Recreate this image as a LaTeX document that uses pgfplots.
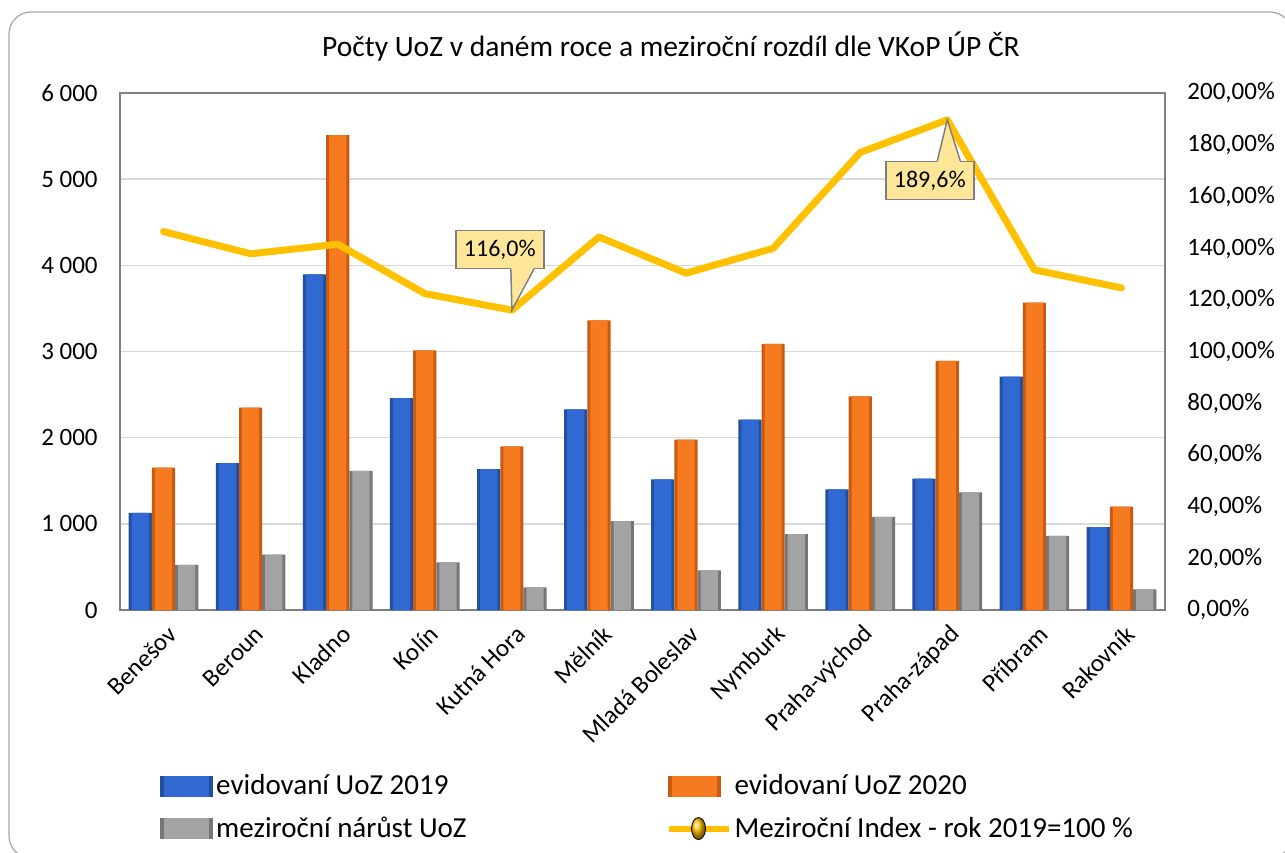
\documentclass[border=0pt]{standalone}
\usepackage{pgfplots}
\usepackage{pgfplotstable}
\pgfplotsset{compat=1.18}
\usepackage{fontspec}
\setmainfont{Carlito}
\definecolor{blueM}{HTML}{3169D2}
\definecolor{blueD}{HTML}{22509E}
\definecolor{orangeM}{HTML}{F57A20}
\definecolor{orangeD}{HTML}{C95A12}
\definecolor{grayM}{HTML}{A3A3A3}
\definecolor{grayD}{HTML}{767676}
\definecolor{gold}{HTML}{FFC000}
\definecolor{gridgray}{HTML}{D9D9D9}
\definecolor{axgray}{HTML}{808080}
\definecolor{calloutfill}{HTML}{FFE699}
\definecolor{calloutdraw}{HTML}{7F7F7F}
\definecolor{framegray}{HTML}{A6A6A6}
\tikzset{callout/.style={fill=calloutfill, draw=calloutdraw, line width=0.75pt, minimum width=44pt, minimum height=19pt, inner sep=0pt, font=\fontsize{12}{14}\selectfont}}

\pgfplotstableread{
x a b c idx
0 1128 1652 524 146.4
1 1704 2348 644 137.8
2 3896 5512 1616 141.5
3 2460 3012 552 122.4
4 1636 1898 262 116.0
5 2328 3360 1032 144.3
6 1516 1976 460 130.3
7 2208 3088 880 139.9
8 1400 2480 1080 177.0
9 1524 2890 1366 189.6
10 2708 3568 860 131.6
11 962 1200 238 124.6
}\datatable

\begin{document}
\begin{tikzpicture}
\draw[framegray, line width=0.6pt, rounded corners=11pt] (-55.5pt,299pt) rectangle (586pt,-124pt);
\begin{axis}[
  at={(0pt,0pt)}, anchor=south west,
  scale only axis, width=522.5pt, height=258.5pt,
  xmin=-0.5, xmax=11.5, ymin=0, ymax=6000,
  ytick={0,1000,...,6000},
  yticklabels={0,{1 000},{2 000},{3 000},{4 000},{5 000},{6 000}},
  xtick={0,...,11},
  xticklabels={Benešov,Beroun,Kladno,Kolín,Kutná Hora,Mělník,Mladá Boleslav,Nymburk,Praha-východ,Praha-západ,Příbram,Rakovník},
  major tick length=0pt,
  ymajorgrids, grid style={draw=gridgray, line width=0.75pt},
  axis line style={draw=axgray, line width=0.75pt},
  tick label style={font=\fontsize{12.5}{14}\selectfont},
  yticklabel style={inner sep=0pt, anchor=east, xshift=-11pt},
  xticklabel style={inner sep=0pt, xshift=4.5pt, yshift=-10pt, rotate=45, anchor=east},
  ybar=0pt, bar width=11.6pt,
  legend columns=2,
  legend cell align=left,
  legend style={at={(axis description cs:0.0383,-0.31)}, anchor=north west, draw=none, fill=none,
    font=\fontsize{14.5}{16}\selectfont, inner sep=0pt,
    nodes={inner xsep=1.5pt, inner ysep=2pt},
    row sep=5.5pt,
    /tikz/every even column/.append style={column sep=98pt}},
]
\addplot[forget plot, draw=none, fill=blueD, bar shift=-11.6pt] table[x=x,y=a]{\datatable};
\addplot[forget plot, draw=none, fill=blueM, bar shift=-11.6pt, bar width=8.6pt] table[x=x,y=a]{\datatable};
\addplot[forget plot, draw=none, fill=orangeD, bar shift=0pt] table[x=x,y=b]{\datatable};
\addplot[forget plot, draw=none, fill=orangeM, bar shift=0pt, bar width=8.6pt] table[x=x,y=b]{\datatable};
\addplot[forget plot, draw=none, fill=grayD, bar shift=11.6pt] table[x=x,y=c]{\datatable};
\addplot[forget plot, draw=none, fill=grayM, bar shift=11.6pt, bar width=8.6pt] table[x=x,y=c]{\datatable};
\addlegendimage{legend image code/.code={\fill[blueD] (0pt,-5pt) rectangle (26pt,5pt); \fill[blueM] (2pt,-5pt) rectangle (24pt,5pt);}}
\addlegendentry{evidovaní UoZ 2019}
\addlegendimage{legend image code/.code={\fill[orangeD] (0pt,-5pt) rectangle (26pt,5pt); \fill[orangeM] (2pt,-5pt) rectangle (24pt,5pt);}}
\addlegendentry{evidovaní UoZ 2020}
\addlegendimage{legend image code/.code={\fill[grayD] (0pt,-5pt) rectangle (26pt,5pt); \fill[grayM] (2pt,-5pt) rectangle (24pt,5pt);}}
\addlegendentry{meziroční nárůst UoZ}
\addlegendimage{legend image code/.code={\draw[gold, line width=3pt] (0pt,0pt) -- (30pt,0pt); \shade[ball color=gold] (15pt,0pt) ellipse (3.5pt and 5.5pt);}}
\addlegendentry{Meziroční Index - rok 2019=100 \%}
\end{axis}
\begin{axis}[
  at={(0pt,0pt)}, anchor=south west,
  scale only axis, width=522.5pt, height=258.5pt,
  xmin=-0.5, xmax=11.5, ymin=0, ymax=200,
  axis x line=none, axis y line*=right,
  ytick={0,20,...,200},
  yticklabels={{0,00\%},{20,00\%},{40,00\%},{60,00\%},{80,00\%},{100,00\%},{120,00\%},{140,00\%},{160,00\%},{180,00\%},{200,00\%}},
  major tick length=0pt,
  axis line style={draw=axgray, line width=0.75pt},
  tick label style={font=\fontsize{12.5}{14}\selectfont},
  yticklabel style={inner sep=0pt, anchor=west, xshift=11pt},
]
\addplot[gold, line width=3.5pt, line cap=round, line join=round, mark=none] table[x=x,y=idx]{\datatable};
\coordinate (t1) at (axis cs:4,116.0);
\coordinate (t2) at (axis cs:9,189.6);
\node[callout, anchor=south, xshift=-6pt, yshift=20.5pt] (c1) at (t1) {116,0\%};
\fill[calloutfill] ([xshift=-0.5pt]t1) -- ([xshift=-0.5pt, yshift=21.3pt]t1) -- ([xshift=11pt, yshift=21.3pt]t1) -- cycle;
\draw[calloutdraw, line width=0.75pt] ([xshift=-0.5pt, yshift=20.5pt]t1) -- (t1) -- ([xshift=11pt, yshift=20.5pt]t1);
\node[callout, anchor=north, xshift=-8.75pt, yshift=-20.5pt] (c2) at (t2) {189,6\%};
\fill[calloutfill] (t2) -- ([xshift=-5pt, yshift=-21.3pt]t2) -- ([xshift=6.5pt, yshift=-21.3pt]t2) -- cycle;
\draw[calloutdraw, line width=0.75pt] ([xshift=-5pt, yshift=-20.5pt]t2) -- (t2) -- ([xshift=6.5pt, yshift=-20.5pt]t2);
\end{axis}
\node[font=\fontsize{14.75}{17}\selectfont] at (275.5pt,281.5pt) {Počty UoZ v daném roce a meziroční rozdíl dle VKoP ÚP ČR};
\pgfresetboundingbox
\path[use as bounding box] (-60pt,305pt) rectangle (582.5pt,-121pt);
\end{tikzpicture}
\end{document}
